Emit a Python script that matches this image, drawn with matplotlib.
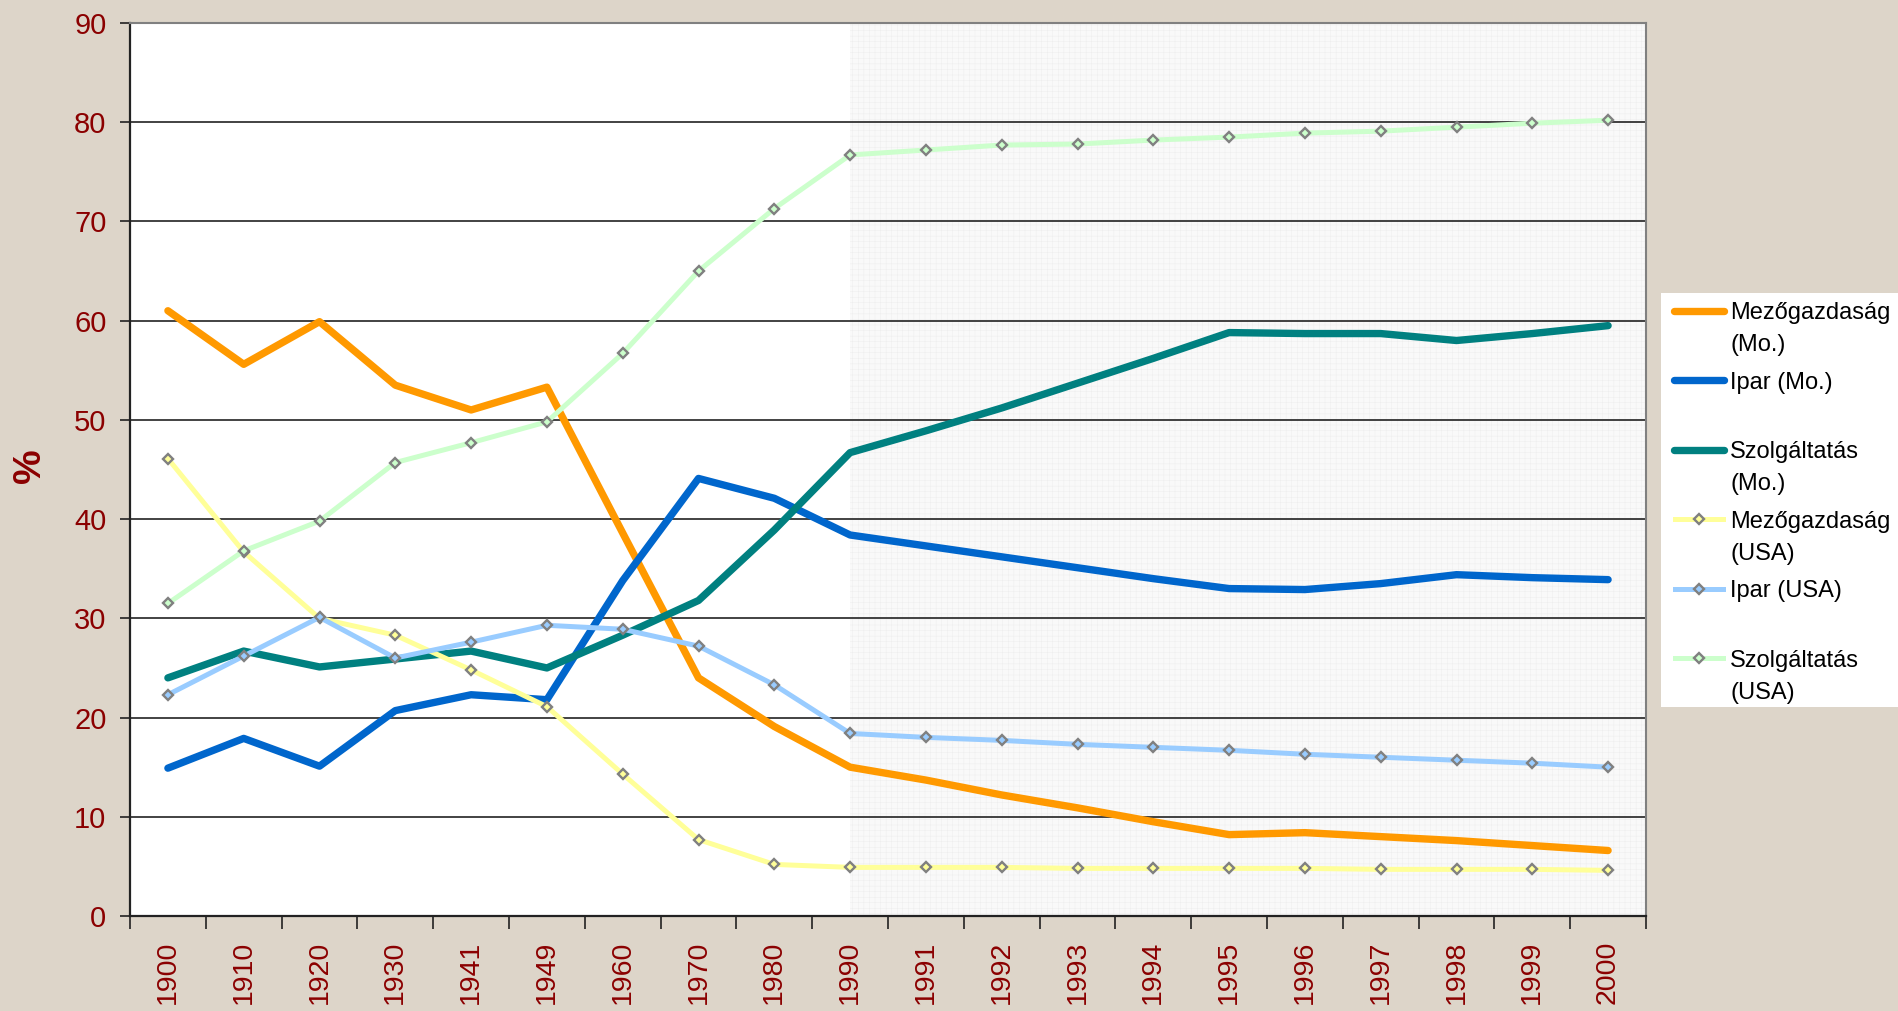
import matplotlib
matplotlib.use('Agg')
import matplotlib.pyplot as plt
from matplotlib.lines import Line2D

plt.rcParams['font.family'] = ['Liberation Sans', 'DejaVu Sans']
plt.rcParams['hatch.linewidth'] = 0.3

# Adatok
evek = ['1900', '1910', '1920', '1930', '1941', '1949', '1960', '1970', '1980', '1990',
        '1991', '1992', '1993', '1994', '1995', '1996', '1997', '1998', '1999', '2000']

mezo_mo = [61.0, 55.6, 59.9, 53.5, 51.0, 53.3, 38.6, 24.0, 19.1, 15.0,
           13.7, 12.2, 10.9, 9.5, 8.2, 8.4, 8.0, 7.6, 7.1, 6.6]
ipar_mo = [14.9, 17.9, 15.1, 20.7, 22.3, 21.8, 33.8, 44.1, 42.1, 38.4,
           37.3, 36.2, 35.1, 34.0, 33.0, 32.9, 33.5, 34.4, 34.1, 33.9]
szolg_mo = [24.0, 26.7, 25.1, 25.9, 26.7, 25.0, 28.3, 31.8, 38.9, 46.7,
            48.9, 51.2, 53.7, 56.2, 58.8, 58.7, 58.7, 58.0, 58.7, 59.5]
mezo_usa = [46.1, 36.7, 30.0, 28.3, 24.8, 21.1, 14.3, 7.7, 5.2, 4.9,
            4.9, 4.9, 4.8, 4.8, 4.8, 4.8, 4.7, 4.7, 4.7, 4.6]
ipar_usa = [22.3, 26.2, 30.1, 26.0, 27.6, 29.3, 28.9, 27.2, 23.3, 18.4,
            18.0, 17.7, 17.3, 17.0, 16.7, 16.3, 16.0, 15.7, 15.4, 15.0]
szolg_usa = [31.5, 36.8, 39.8, 45.7, 47.7, 49.8, 56.7, 65.0, 71.3, 76.7,
             77.2, 77.7, 77.8, 78.2, 78.5, 78.9, 79.1, 79.5, 79.9, 80.2]

nevek = ['Mezőgazdaság\n(Mo.)', 'Ipar (Mo.)', 'Szolgáltatás\n(Mo.)',
         'Mezőgazdaság\n(USA)', 'Ipar (USA)', 'Szolgáltatás\n(USA)']
szinek = ['#FF9900', '#0066CC', '#008080', '#FFFF99', '#99CCFF', '#CCFFCC']

piros = '#8B0000'
hatter = '#DDD5C9'

fig = plt.figure(figsize=(18.98, 10.11), dpi=100, facecolor=hatter)
ax = fig.add_axes([130 / 1898, 95 / 1011, (1646 - 130) / 1898, (916 - 23) / 1011])
ax.set_facecolor('white')

x = list(range(len(evek)))

# Világosszürke, pontozott háttér 1990-től
ax.axvspan(9, len(evek) - 0.5, facecolor='#f9f9f9', edgecolor='#ececec',
           hatch='+++', linewidth=0, zorder=0)

# Rácsvonalak
for g in range(10, 90, 10):
    ax.axhline(g, color='#222222', linewidth=1.2, zorder=1)

sorok = [mezo_mo, ipar_mo, szolg_mo, mezo_usa, ipar_usa, szolg_usa]
for i, (adat, szin) in enumerate(zip(sorok, szinek)):
    if i < 3:
        ax.plot(x, adat, color=szin, linewidth=5.3, solid_capstyle='round',
                solid_joinstyle='round', zorder=3 + i)
    else:
        ax.plot(x, adat, color=szin, linewidth=3.6, solid_joinstyle='round',
                marker='D', markersize=5.5, markerfacecolor=szin,
                markeredgecolor='#808080', markeredgewidth=1.7, zorder=3 + i)

ax.set_xlim(-0.5, len(evek) - 0.5)
ax.set_ylim(0, 90)
ax.set_yticks(range(0, 91, 10))
ax.tick_params(axis='y', length=7, width=1.2, color='#222222', pad=10,
               labelsize=21, labelcolor=piros)

ax.set_xticks([i - 0.5 for i in range(len(evek) + 1)])
ax.set_xticklabels([])
ax.set_xticks(x, minor=True)
ax.set_xticklabels(evek, minor=True, rotation=90)
ax.tick_params(axis='x', which='major', length=9, width=1.2, color='#222222')
ax.tick_params(axis='x', which='minor', length=0, pad=18, labelsize=20.5,
               labelcolor=piros)

for s in ['left', 'bottom']:
    ax.spines[s].set_color('#222222')
    ax.spines[s].set_linewidth(1.6)
for s in ['top', 'right']:
    ax.spines[s].set_color('#808080')
    ax.spines[s].set_linewidth(1.5)

fig.text(30 / 1898, 1 - 466 / 1011, '%', rotation=90, ha='center', va='center',
         fontsize=28, fontweight='bold', color=piros)

# Jelmagyarázat
lax = fig.add_axes([1661 / 1898, (1011 - 707) / 1011, (1898 - 1661) / 1898, (707 - 293) / 1011])
lax.set_facecolor('white')
lax.set_xlim(0, 237)
lax.set_ylim(414, 0)
lax.set_xticks([])
lax.set_yticks([])
for s in lax.spines.values():
    s.set_visible(False)

for i, (nev, szin) in enumerate(zip(nevek, szinek)):
    y = 18 + i * 69.4
    if i < 3:
        lax.add_line(Line2D([13, 63], [y, y], color=szin, linewidth=5.3,
                            solid_capstyle='round'))
    else:
        lax.add_line(Line2D([14, 62], [y, y], color=szin, linewidth=3.6))
        lax.add_line(Line2D([38], [y], marker='D', markersize=5.5, markerfacecolor=szin,
                            markeredgecolor='#808080', markeredgewidth=1.7))
    for j, sor in enumerate(nev.split('\n')):
        lax.text(69, y + 8.5 + j * 32, sor, fontsize=17, color='black',
                 va='baseline', ha='left')

fig.savefig('out.png', dpi=100, facecolor=hatter)
